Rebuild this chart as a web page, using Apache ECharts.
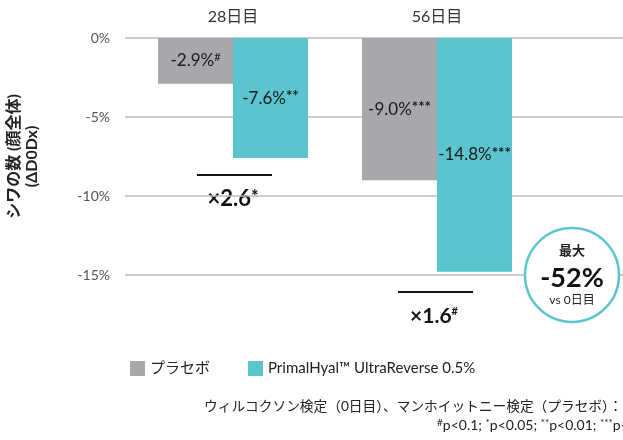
<!DOCTYPE html>
<html>
<head>
<meta charset="utf-8">
<script src="https://cdn.jsdelivr.net/npm/echarts@6/dist/echarts.min.js"></script>
<style>
  html, body { margin: 0; padding: 0; background: #fff; }
  #main { width: 623px; height: 440px; }
</style>
</head>
<body>
<div id="main"></div>
<script>
var categories = ['28日目', '56日目'];
var placebo = [-2.9, -9.0];
var placeboSig = ['#', '***'];
var primal = [-7.6, -14.8];
var primalSig = ['**', '***'];

var FONT = 'Lato, "Noto Sans CJK JP", sans-serif';
var GRAY = '#a7a8ab';
var TEAL = '#5bc5cf';

function labelData(vals, sigs) {
    return vals.map(function (v, i) {
        var tag = sigs[i] == '#' ? 'h' : 's';
        return {
            value: v,
            label: { formatter: '{v|' + v.toFixed(1) + '%}{' + tag + '|' + sigs[i] + '}' }
        };
    });
}

var labelRich = {
    v: { fontSize: 17, color: '#1a1a1a', fontFamily: FONT },
    s: { fontSize: 15, color: '#1a1a1a', fontFamily: FONT, fontWeight: 'bold', verticalAlign: 'top', padding: [0, 0, 4, 0] },
    h: { fontSize: 11, color: '#1a1a1a', fontFamily: FONT, verticalAlign: 'top', padding: [0, 0, 7, 0] }
};

var myChart = echarts.init(document.getElementById('main'));
var option = {
    animation: false,
    textStyle: { fontFamily: FONT },
    grid: [
        { left: 125, right: 0, top: 38, height: 237, outerBoundsMode: 'none' },
        { left: 131, width: 408, top: 38, height: 237, outerBoundsMode: 'none' }
    ],
    legend: {
        left: 125,
        top: 356,
        icon: 'rect',
        itemWidth: 15,
        itemHeight: 15,
        itemGap: 38,
        textStyle: { fontSize: 15, color: '#222', fontFamily: FONT },
        data: ['プラセボ', 'PrimalHyal™ UltraReverse 0.5%']
    },
    xAxis: [
        { gridIndex: 0, type: 'value', show: false, min: 0, max: 1 },
        {
            gridIndex: 1, type: 'category', position: 'top', data: categories,
            axisLine: { show: false }, axisTick: { show: false },
            axisLabel: { fontSize: 16, color: '#333', margin: 13, fontFamily: FONT }
        }
    ],
    yAxis: [
        {
            gridIndex: 0, type: 'value', min: -15, max: 0, interval: 5,
            axisLine: { show: false }, axisTick: { show: false },
            axisLabel: {
                fontSize: 14, color: '#555', margin: 15, fontFamily: FONT,
                formatter: function (v) { return v + '%'; }
            },
            splitLine: { lineStyle: { color: '#bdbdbd', width: 1.5 } },
            name: 'シワの数 (顔全体)\n(ΔD0Dx)',
            nameLocation: 'middle',
            nameRotate: 90,
            nameGap: 84,
            nameTextStyle: { fontSize: 16, fontWeight: 'bold', color: '#222', lineHeight: 18, fontFamily: FONT }
        },
        { gridIndex: 1, type: 'value', min: -15, max: 0, interval: 5, show: false, splitLine: { show: false } }
    ],
    series: [
        {
            name: 'プラセボ', type: 'bar', xAxisIndex: 1, yAxisIndex: 1,
            barWidth: 75, barGap: '0%',
            itemStyle: { color: GRAY },
            label: { show: true, position: 'inside', rich: labelRich },
            data: labelData(placebo, placeboSig)
        },
        {
            name: 'PrimalHyal™ UltraReverse 0.5%', type: 'bar', xAxisIndex: 1, yAxisIndex: 1,
            barWidth: 75, barGap: '0%',
            itemStyle: { color: TEAL },
            label: { show: true, position: 'inside', rich: labelRich },
            data: labelData(primal, primalSig)
        }
    ],
    graphic: [
        // 28日目 comparison
        { type: 'line', shape: { x1: 197, y1: 175, x2: 272, y2: 175 }, style: { stroke: '#111', lineWidth: 2 } },
        { type: 'rect', shape: { x: 192, y: 186, width: 83, height: 24 }, style: { fill: '#fff' } },
        {
            type: 'text', x: 233, y: 199,
            style: {
                text: '{v|×2.6}{s|*}', align: 'center', verticalAlign: 'middle',
                rich: {
                    v: { fontSize: 22, fontWeight: 'bold', fill: '#111', fontFamily: FONT },
                    s: { fontSize: 18, fontWeight: 'bold', fill: '#111', fontFamily: FONT, verticalAlign: 'top' }
                }
            }
        },
        // 56日目 comparison
        { type: 'line', shape: { x1: 398, y1: 292, x2: 473, y2: 292 }, style: { stroke: '#111', lineWidth: 2 } },
        {
            type: 'text', x: 434, y: 316,
            style: {
                text: '{v|×1.6}{s|#}', align: 'center', verticalAlign: 'middle',
                rich: {
                    v: { fontSize: 21, fontWeight: 'bold', fill: '#111', fontFamily: FONT },
                    s: { fontSize: 11, fontWeight: 'bold', fill: '#111', fontFamily: FONT, verticalAlign: 'top', padding: [0, 0, 9, 0] }
                }
            }
        },
        // circle callout
        { type: 'circle', shape: { cx: 572, cy: 275, r: 47 }, style: { fill: '#fff', stroke: TEAL, lineWidth: 2.5 }, z: 10 },
        { type: 'text', x: 572, y: 251, z: 11, style: { text: '最大', align: 'center', verticalAlign: 'middle', fontSize: 13, fontWeight: 'bold', fill: '#222', fontFamily: FONT } },
        { type: 'text', x: 572, y: 278, z: 11, style: { text: '-52%', align: 'center', verticalAlign: 'middle', fontSize: 27, fontWeight: 'bold', fill: '#111', fontFamily: FONT } },
        { type: 'text', x: 572, y: 300, z: 11, style: { text: 'vs 0日目', align: 'center', verticalAlign: 'middle', fontSize: 12, fill: '#222', fontFamily: FONT } },
        // footnotes
        { type: 'text', left: 204, top: 400, style: { text: 'ウィルコクソン検定（0日目）、マンホイットニー検定（プラセボ）：', fontSize: 13.7, fill: '#222', fontFamily: FONT } },
        {
            type: 'text', left: 437, top: 418,
            style: {
                text: '{s|#}p<0.1; {s|*}p<0.05; {s|**}p<0.01; {s|***}p<0.001',
                fontSize: 14, fill: '#222', fontFamily: FONT,
                rich: { s: { fontSize: 10, fill: '#222', verticalAlign: 'top', fontFamily: FONT } }
            }
        }
    ]
};
myChart.setOption(option);
</script>
</body>
</html>
